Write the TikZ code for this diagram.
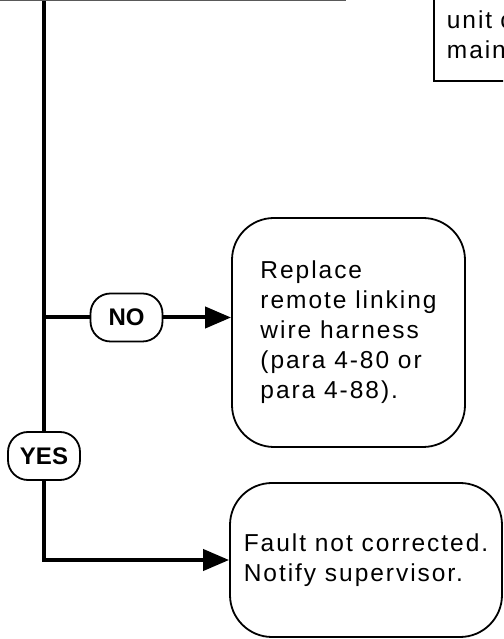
\documentclass[tikz,border=0pt]{standalone}
\usepackage{fontspec}
\setmainfont{Liberation Sans}[LetterSpace=8]
\newfontfamily\answerfont{Liberation Sans}
\usepackage{tikz}
\usetikzlibrary{arrows.meta}

\begin{document}
\begin{tikzpicture}[x=1pt,y=1pt,
  tline/.style={line width=4pt},
  arr/.style={tline,-{Triangle[length=26pt,width=21pt]}},
  plainbox/.style={draw,line width=1.8pt,rectangle,align=left,
              font=\fontsize{24.5}{30}\selectfont},
  stepbox/.style={draw,line width=1.8pt,rounded corners=42pt,align=left,
              font=\fontsize{24.5}{30}\selectfont},
  answer/.style={draw,line width=1.8pt,rounded corners=20pt,
              minimum width=72pt,minimum height=48pt,inner sep=0pt,
              font=\answerfont\bfseries\fontsize{24}{28}\selectfont}]
  \useasboundingbox (0,0) rectangle (503,639);
  \clip (0,0) rectangle (503,639);
  % boxes cut off by the page edge
  \node[plainbox,draw=black!65,anchor=south west,minimum width=400pt,
        minimum height=60pt] (prev) at (-56,637.5) {};
  \node[plainbox,anchor=south west,inner xsep=13pt,inner ysep=22pt,
        text width=120pt] (note) at (433,557) {unit c\\main};
  % answers
  \node[answer] (no) at (126.5,321.5) {NO};
  \node[answer] (yes) at (44,183) {YES};
  % actions
  \node[stepbox,minimum width=233pt,minimum height=229pt] (repl) at (348.5,306.5)
    {Replace\\remote linking\\wire harness\\(para 4-80 or\\para 4-88).};
  \node[stepbox,minimum width=272pt,minimum height=154pt] (fault) at (366,79)
    {Fault not corrected.\\Notify supervisor.};
  % connectors
  \draw[tline] (yes |- prev.south) -- (yes.north);
  \draw[tline] (no.west) -- (no -| yes);
  \draw[arr] (no.east) -- (no -| repl.west);
  \draw[arr] (yes.south) |- (fault.west);
\end{tikzpicture}
\end{document}
